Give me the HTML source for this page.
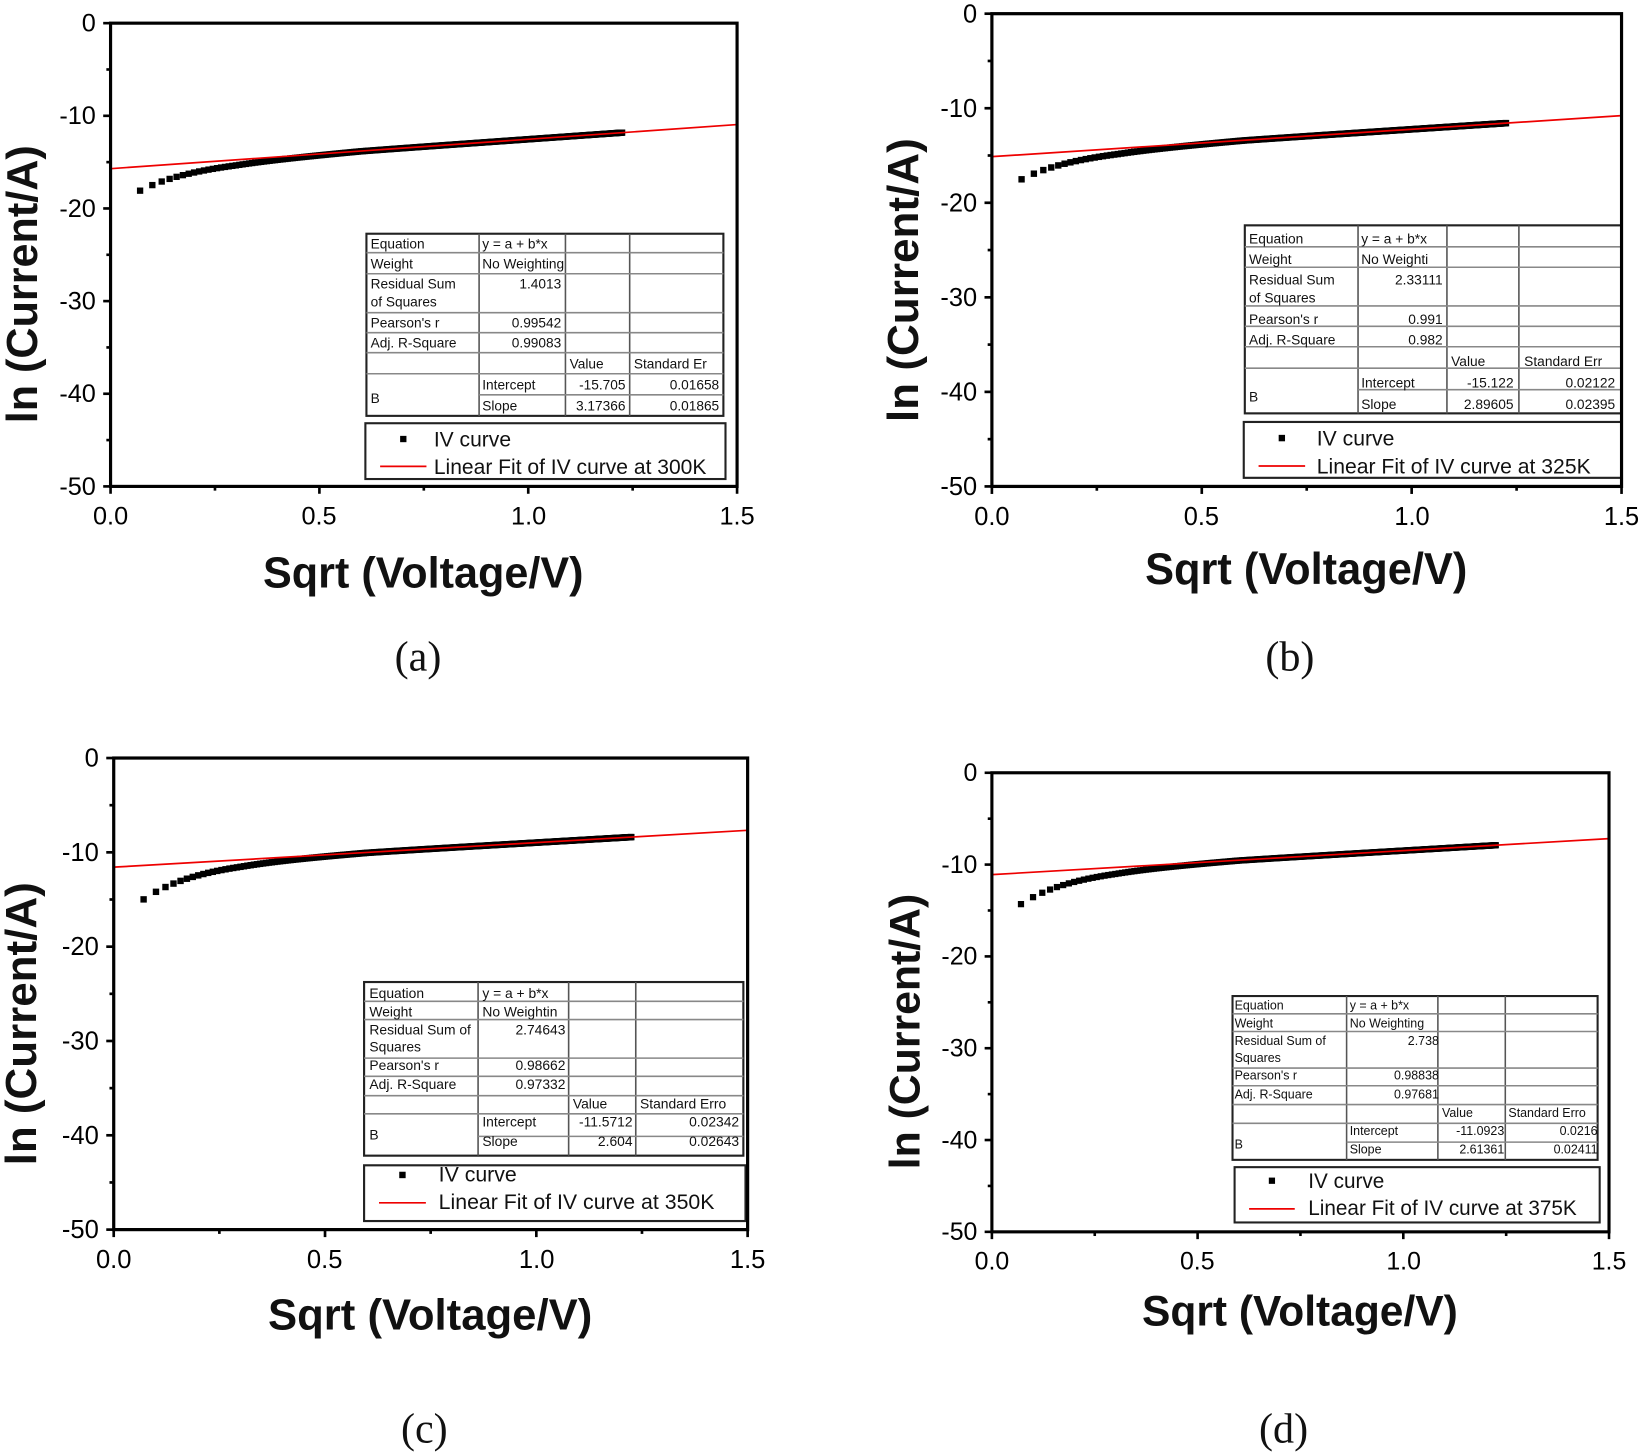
<!DOCTYPE html>
<html><head><meta charset="utf-8"><style>
html,body{margin:0;padding:0;background:#fff}
svg{display:block}
.tl{font-family:"Liberation Sans",sans-serif;font-size:24px;fill:#000}
.tt{font-family:"Liberation Sans",sans-serif;font-size:41px;font-weight:bold;fill:#111}
.tb{font-family:"Liberation Sans",sans-serif;font-size:13px;fill:#111}
.lg{font-family:"Liberation Sans",sans-serif;font-size:20px;fill:#111}
.cap{font-family:"Liberation Serif",serif;font-size:40px;fill:#111}
</style></head><body>
<svg width="1650" height="1455" viewBox="0 0 1567 1382" preserveAspectRatio="none" xmlns="http://www.w3.org/2000/svg">
<rect width="1567" height="1382" fill="#fff"/>
<g id="p0" transform="translate(105,22)">
<g class="tl" text-anchor="end"><text x="-14" y="8">0</text><text x="-14" y="96">-10</text><text x="-14" y="184">-20</text><text x="-14" y="272">-30</text><text x="-14" y="360">-40</text><text x="-14" y="448">-50</text></g>
<g class="tl" text-anchor="middle"><text x="0" y="476">0.0</text><text x="198" y="476">0.5</text><text x="397" y="476">1.0</text><text x="595" y="476">1.5</text></g>
<text class="tt" x="297" y="536" text-anchor="middle">Sqrt (Voltage/V)</text>
<text class="tt" transform="translate(-70,248) rotate(-90)" text-anchor="middle">ln (Current/A)</text>
<g class="tb"><text x="247" y="214">Equation</text><text x="353" y="214">y = a + b*x</text><text x="247" y="233">Weight</text><text x="353" y="233">No Weighting</text><text x="247" y="252">Residual Sum</text><text x="247" y="269">of Squares</text><text x="428" y="252" text-anchor="end">1.4013</text><text x="247" y="289">Pearson's r</text><text x="428" y="289" text-anchor="end">0.99542</text><text x="247" y="308">Adj. R-Square</text><text x="428" y="308" text-anchor="end">0.99083</text><text x="436" y="328">Value</text><text x="497" y="328">Standard Er</text><text x="247" y="361">B</text><text x="353" y="348">Intercept</text><text x="353" y="368">Slope</text><text x="489" y="348" text-anchor="end">-15.705</text><text x="489" y="368" text-anchor="end">3.17366</text><text x="578" y="348" text-anchor="end">0.01658</text><text x="578" y="368" text-anchor="end">0.01865</text></g>
<g class="lg"><text x="307" y="402">IV curve</text><text x="307" y="428">Linear Fit of IV curve at 300K</text></g>
</g>
<g id="p1" transform="translate(942,13) scale(1.005,1.0205)">
<g class="tl" text-anchor="end"><text x="-14" y="8">0</text><text x="-14" y="96">-10</text><text x="-14" y="184">-20</text><text x="-14" y="272">-30</text><text x="-14" y="360">-40</text><text x="-14" y="448">-50</text></g>
<g class="tl" text-anchor="middle"><text x="0" y="476">0.0</text><text x="198" y="476">0.5</text><text x="397" y="476">1.0</text><text x="595" y="476">1.5</text></g>
<text class="tt" x="297" y="531" text-anchor="middle">Sqrt (Voltage/V)</text>
<text class="tt" transform="translate(-70,248) rotate(-90)" text-anchor="middle">ln (Current/A)</text>
<g class="tb"><text x="243" y="214">Equation</text><text x="349" y="214">y = a + b*x</text><text x="243" y="233">Weight</text><text x="349" y="233">No Weighti</text><text x="243" y="252">Residual Sum</text><text x="243" y="269">of Squares</text><text x="426" y="252" text-anchor="end">2.33111</text><text x="243" y="289">Pearson's r</text><text x="426" y="289" text-anchor="end">0.991</text><text x="243" y="308">Adj. R-Square</text><text x="426" y="308" text-anchor="end">0.982</text><text x="434" y="328">Value</text><text x="503" y="328">Standard Err</text><text x="243" y="361">B</text><text x="349" y="348">Intercept</text><text x="349" y="368">Slope</text><text x="493" y="348" text-anchor="end">-15.122</text><text x="493" y="368" text-anchor="end">2.89605</text><text x="589" y="348" text-anchor="end">0.02122</text><text x="589" y="368" text-anchor="end">0.02395</text></g>
<g class="lg"><text x="307" y="402">IV curve</text><text x="307" y="428">Linear Fit of IV curve at 325K</text></g>
</g>
<g id="p2" transform="translate(108,720) scale(1.0118,1.018)">
<g class="tl" text-anchor="end"><text x="-14" y="8">0</text><text x="-14" y="96">-10</text><text x="-14" y="184">-20</text><text x="-14" y="272">-30</text><text x="-14" y="360">-40</text><text x="-14" y="448">-50</text></g>
<g class="tl" text-anchor="middle"><text x="0" y="476">0.0</text><text x="198" y="476">0.5</text><text x="397" y="476">1.0</text><text x="595" y="476">1.5</text></g>
<text class="tt" x="297" y="533" text-anchor="middle">Sqrt (Voltage/V)</text>
<text class="tt" transform="translate(-73,248) rotate(-90)" text-anchor="middle">ln (Current/A)</text>
<g class="tb"><text x="240" y="224">Equation</text><text x="346" y="224">y = a + b*x</text><text x="240" y="241">Weight</text><text x="346" y="241">No Weightin</text><text x="240" y="258">Residual Sum of</text><text x="240" y="274">Squares</text><text x="424" y="258" text-anchor="end">2.74643</text><text x="240" y="291">Pearson's r</text><text x="424" y="291" text-anchor="end">0.98662</text><text x="240" y="309">Adj. R-Square</text><text x="424" y="309" text-anchor="end">0.97332</text><text x="431" y="327">Value</text><text x="494" y="327">Standard Erro</text><text x="240" y="356">B</text><text x="346" y="344">Intercept</text><text x="346" y="362">Slope</text><text x="487" y="344" text-anchor="end">-11.5712</text><text x="487" y="362" text-anchor="end">2.604</text><text x="587" y="344" text-anchor="end">0.02342</text><text x="587" y="362" text-anchor="end">0.02643</text></g>
<g class="lg"><text x="305" y="395">IV curve</text><text x="305" y="421">Linear Fit of IV curve at 350K</text></g>
</g>
<g id="p3" transform="translate(942,734) scale(0.985,0.991)">
<g class="tl" text-anchor="end"><text x="-14" y="8">0</text><text x="-14" y="96">-10</text><text x="-14" y="184">-20</text><text x="-14" y="272">-30</text><text x="-14" y="360">-40</text><text x="-14" y="448">-50</text></g>
<g class="tl" text-anchor="middle"><text x="0" y="476">0.0</text><text x="198" y="476">0.5</text><text x="397" y="476">1.0</text><text x="595" y="476">1.5</text></g>
<text class="tt" x="297" y="530" text-anchor="middle">Sqrt (Voltage/V)</text>
<text class="tt" transform="translate(-70,248) rotate(-90)" text-anchor="middle">ln (Current/A)</text>
<g class="tb" style="font-size:12px"><text x="234" y="227">Equation</text><text x="345" y="227">y = a + b*x</text><text x="234" y="244">Weight</text><text x="345" y="244">No Weighting</text><text x="234" y="261">Residual Sum of</text><text x="234" y="277">Squares</text><text x="431" y="261" text-anchor="end">2.738</text><text x="234" y="294">Pearson's r</text><text x="431" y="294" text-anchor="end">0.98838</text><text x="234" y="312">Adj. R-Square</text><text x="431" y="312" text-anchor="end">0.97681</text><text x="434" y="330">Value</text><text x="498" y="330">Standard Erro</text><text x="234" y="360">B</text><text x="345" y="347">Intercept</text><text x="345" y="365">Slope</text><text x="494" y="347" text-anchor="end">-11.0923</text><text x="494" y="365" text-anchor="end">2.61361</text><text x="584" y="347" text-anchor="end">0.0216</text><text x="584" y="365" text-anchor="end">0.02411</text></g>
<g class="lg"><text x="305" y="398">IV curve</text><text x="305" y="424">Linear Fit of IV curve at 375K</text></g>
</g>
<g class="cap" text-anchor="middle"><text x="397" y="637">(a)</text><text x="1225" y="637">(b)</text><text x="403" y="1370">(c)</text><text x="1219" y="1370">(d)</text></g>
</svg>
<script>
var NS="http://www.w3.org/2000/svg";
function el2(p,t,a){var e=document.createElementNS(NS,t);for(var k in a)e.setAttribute(k,a[k]);p.appendChild(e);return e;}
var W=595,H=440;
var cfg=[
 {a:-15.705,b:3.17366,D:2.6,tab:[243,200,582,373],cols:[350,432,493],rows:[218,238,275,294,313,333,353],leg:[242,380,584,433],ly:[395,421]},
 {a:-15.122,b:2.89605,D:2.6,tab:[239,197,595,372],cols:[346,430,498],rows:[217,236,272,291,310,330,350],leg:[238,380,595,432],ly:[395,421]},
 {a:-11.5712,b:2.604,D:3.6,tab:[235,209,591,371],cols:[342,427,490],rows:[227,244,280,297,315,332,353],leg:[235,380,593,432],ly:[389,415]},
 {a:-11.0923,b:2.61361,D:3.4,tab:[232,214,584,371],cols:[342,430,495],rows:[231,248,283,300,318,336,354],leg:[234,378,586,431],ly:[391,418]}
];
cfg.forEach(function(c,i){
 var g=document.getElementById("p"+i);
 var X=function(v){return v/1.5*W},Y=function(v){return -v/50*H};
 var d=document.createElementNS(NS,"g");
 for(var k=1;k<=300;k++){var x=Math.sqrt(0.005*k);
  var y=c.a+c.b*x-0.25-(c.D-0.25)*Math.exp(-(x-0.0707)/0.12)+0.25*Math.min(1,Math.max(0,(x-0.3)/0.3));
  el2(d,"rect",{x:X(x)-3,y:Y(y)-3,width:6,height:6,fill:"#000"});}
 g.insertBefore(d,g.firstChild);
 el2(g,"line",{x1:0,y1:Y(c.a),x2:W,y2:Y(c.a+c.b*1.5),stroke:"#e00",'stroke-width':1.6});
 var t=c.tab,tg=document.createElementNS(NS,"g");
 el2(tg,"rect",{x:t[0],y:t[1],width:t[2]-t[0],height:t[3]-t[1],fill:"#fff",stroke:"#222",'stroke-width':2});
 c.cols.forEach(function(cx){el2(tg,"line",{x1:cx,y1:t[1],x2:cx,y2:t[3],stroke:"#555",'stroke-width':1.5});});
 c.rows.forEach(function(ry,j){el2(tg,"line",{x1:(j==6?c.cols[0]:t[0]),y1:ry,x2:t[2],y2:ry,stroke:"#888",'stroke-width':1.5});});
 var l=c.leg;
 el2(tg,"rect",{x:l[0],y:l[1],width:l[2]-l[0],height:l[3]-l[1],fill:"#fff",stroke:"#222",'stroke-width':2});
 el2(tg,"rect",{x:l[0]+33,y:c.ly[0]-3,width:6,height:6,fill:"#000"});
 el2(tg,"line",{x1:l[0]+14,y1:c.ly[1],x2:l[0]+58,y2:c.ly[1],stroke:"#e00",'stroke-width':1.6});
 var tb=g.querySelector(".tb");g.insertBefore(tg,tb);
 var ax=document.createElementNS(NS,"g");
 el2(ax,"rect",{x:0,y:0,width:W,height:H,fill:"none",stroke:"#000",'stroke-width':3});
 for(var m=0;m<=6;m++){var xx=m*W/6;el2(ax,"line",{x1:xx,y1:H,x2:xx,y2:H+(m%2?4:7),stroke:"#000",'stroke-width':2.5});}
 for(var m=0;m<=10;m++){var yy=m*H/10;el2(ax,"line",{x1:0,y1:yy,x2:-(m%2?4:7),y2:yy,stroke:"#000",'stroke-width':2.5});}
 g.appendChild(ax);
});
</script>
</body></html>
